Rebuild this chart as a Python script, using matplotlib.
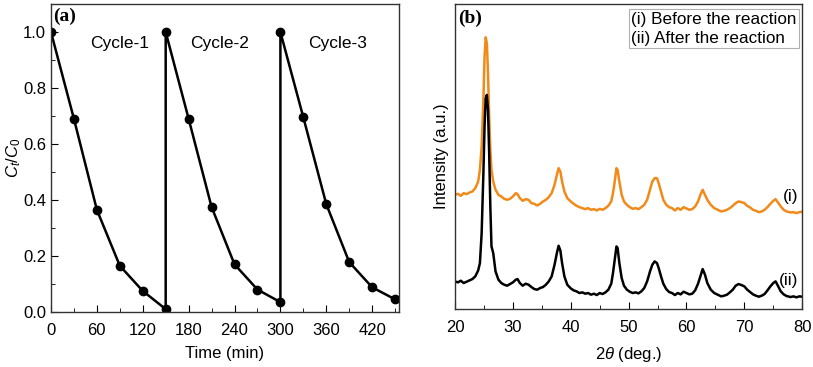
import numpy as np
import matplotlib.pyplot as plt
from matplotlib.ticker import MultipleLocator

plt.rcParams['font.family'] = ['Liberation Sans', 'DejaVu Sans']
plt.rcParams['mathtext.fontset'] = 'custom'
plt.rcParams['mathtext.it'] = 'Liberation Sans:italic'
plt.rcParams['mathtext.rm'] = 'Liberation Sans'

#%% datos (a): tres ciclos
tiempo = [0, 30, 60, 90, 120, 150, 150, 180, 210, 240, 270, 300,
          300, 330, 360, 390, 420, 450]
ct_c0 = [1.0, 0.69, 0.365, 0.165, 0.075, 0.01,
         1.0, 0.69, 0.375, 0.17, 0.08, 0.035,
         1.0, 0.695, 0.385, 0.178, 0.088, 0.045]
ciclos = ['Cycle-1', 'Cycle-2', 'Cycle-3']
ciclos_x = [90, 221, 375]

#%% datos (b): XRD (en pixeles de la imagen x3)
two_theta = [20, 20.5, 21, 21.5, 22, 22.5, 23, 23.5, 24, 24.3,
             24.6, 24.9, 25.1, 25.3, 25.5, 25.7, 25.9, 26.1, 26.3, 26.6,
             27, 27.5, 28, 28.5, 29, 29.5, 30, 30.5, 30.8, 31.2,
             31.7, 32.2, 32.7, 33.2, 33.7, 34.2, 34.7, 35.2, 35.7, 36.2,
             36.7, 37.2, 37.6, 37.9, 38.2, 38.5, 38.9, 39.4, 40, 40.5,
             41, 41.5, 42, 42.5, 43, 43.5, 44, 44.5, 45, 45.5,
             46, 46.5, 47, 47.3, 47.6, 47.9, 48.1, 48.4, 48.8, 49.2,
             49.7, 50.2, 50.7, 51.2, 51.7, 52.2, 52.7, 53.2, 53.7, 54.1,
             54.5, 54.9, 55.2, 55.6, 56, 56.5, 57, 57.5, 58, 58.5,
             59, 59.5, 60, 60.5, 61, 61.5, 62, 62.4, 62.8, 63.2,
             63.6, 64.2, 64.8, 65.4, 66, 66.5, 67, 67.5, 68, 68.5,
             69, 69.5, 70, 70.5, 71, 71.5, 72, 72.5, 73, 73.5,
             74, 74.5, 75, 75.4, 75.8, 76.3, 76.8, 77.3, 78, 78.5,
             79, 79.5, 80]
pix_i = [585, 582, 588, 580, 583, 578, 575, 565, 545, 510,
         440, 300, 170, 112, 130, 220, 350, 450, 510, 545,
         570, 585, 590, 597, 600, 597, 590, 580, 583, 595,
         603, 598, 600, 610, 612, 617, 612, 605, 600, 592,
         580, 555, 525, 505, 515, 545, 575, 595, 605, 612,
         618, 622, 625, 628, 625, 630, 628, 632, 627, 630,
         625, 618, 605, 580, 545, 505, 510, 545, 585, 605,
         615, 622, 627, 625, 628, 622, 615, 600, 570, 545,
         535, 535, 550, 575, 600, 615, 622, 625, 632, 625,
         630, 622, 626, 630, 628, 620, 605, 585, 570, 585,
         600, 615, 625, 630, 635, 633, 630, 625, 618, 610,
         605, 607, 610, 618, 623, 630, 633, 637, 635, 630,
         622, 612, 603, 598, 608, 620, 630, 635, 638, 637,
         640, 637, 636]
pix_ii = [845, 848, 843, 850, 846, 842, 838, 830, 812, 790,
          700, 520, 380, 295, 285, 330, 460, 620, 740, 760,
          815, 840, 850, 855, 858, 853, 848, 840, 838, 850,
          858, 852, 855, 862, 868, 870, 865, 862, 855, 845,
          830, 795, 760, 738, 752, 790, 830, 855, 866, 872,
          875, 880, 878, 882, 880, 885, 882, 886, 880, 883,
          878, 870, 852, 820, 780, 740, 745, 790, 835, 858,
          870, 876, 880, 878, 881, 875, 865, 845, 815, 795,
          785, 790, 805, 830, 852, 868, 877, 880, 886, 880,
          884, 876, 880, 884, 882, 872, 852, 830, 808, 825,
          850, 870, 880, 885, 890, 888, 885, 878, 870, 858,
          853, 856, 860, 870, 877, 884, 888, 891, 888, 883,
          872, 860, 850, 845, 858, 875, 884, 889, 892, 890,
          893, 890, 891]
etiquetas = ['(i)', '(ii)']
leyenda = '(i) Before the reaction\n(ii) After the reaction'

# paso de pixeles a unidades arbitrarias
intens_i = (928 - np.array(pix_i)) / 916 * 100
intens_ii = (928 - np.array(pix_ii)) / 916 * 100

#%% figura
fig = plt.figure(figsize=(8.13, 3.67), dpi=100)
ax1 = fig.add_axes([0.0627, 0.150, 0.428, 0.839])
ax2 = fig.add_axes([0.5597, 0.158, 0.427, 0.831])

#------ (a) -------
ax1.plot(tiempo, ct_c0, 'k-o', lw=1.8, ms=6)
for txt, xx in zip(ciclos, ciclos_x):
    ax1.text(xx, 0.96, txt, fontsize=12.5, ha='center', va='center')
ax1.text(3, 1.055, '(a)', fontsize=14, fontweight='bold', family='Liberation Serif', va='center')
ax1.set_xlim(0, 455)
ax1.set_ylim(0, 1.1)
ax1.xaxis.set_major_locator(MultipleLocator(60))
ax1.xaxis.set_minor_locator(MultipleLocator(30))
ax1.yaxis.set_major_locator(MultipleLocator(0.2))
ax1.yaxis.set_minor_locator(MultipleLocator(0.1))
ax1.set_xlabel('Time (min)', fontsize=12, labelpad=6)
ax1.set_ylabel(r'$C_t/C_\mathrm{0}$', fontsize=12, labelpad=0)
ax1.tick_params(which='both', direction='in', labelsize=12)
ax1.tick_params(which='major', length=5)
ax1.tick_params(which='minor', length=3)
ax1.tick_params(axis='x', which='both', pad=8)

#------ (b) -------
ax2.plot(two_theta, intens_i, color='#f28a1a', lw=1.8)
ax2.plot(two_theta, intens_ii, color='black', lw=1.8)
ax2.text(76.7, 37, etiquetas[0], fontsize=12.5, ha='left', va='center')
ax2.text(76.0, 9.5, etiquetas[1], fontsize=12.5, ha='left', va='center')
ax2.text(20.6, 95.2, '(b)', fontsize=14, fontweight='bold', family='Liberation Serif', va='center')
ax2.text(0.508, 0.975, leyenda,
         transform=ax2.transAxes, ha='left', va='top', fontsize=12.3, linespacing=1.35,
         bbox=dict(boxstyle='square,pad=0.15', fc='white', ec='#b0b0b0', lw=0.8))
ax2.set_xlim(20, 80)
ax2.set_ylim(0, 100)
ax2.xaxis.set_major_locator(MultipleLocator(10))
ax2.xaxis.set_minor_locator(MultipleLocator(5))
ax2.set_yticks([])
ax2.set_xlabel(r'2$\theta$ (deg.)', fontsize=12, labelpad=7)
ax2.set_ylabel('Intensity (a.u.)', fontsize=12, labelpad=4)
ax2.tick_params(axis='x', which='both', direction='in', labelsize=12, pad=8)
ax2.tick_params(axis='x', which='major', length=5)
ax2.tick_params(axis='x', which='minor', length=3)

for ax in (ax1, ax2):
    for s in ax.spines.values():
        s.set_color('#333333')
        s.set_linewidth(1.0)

fig.savefig('out.png', dpi=100)
